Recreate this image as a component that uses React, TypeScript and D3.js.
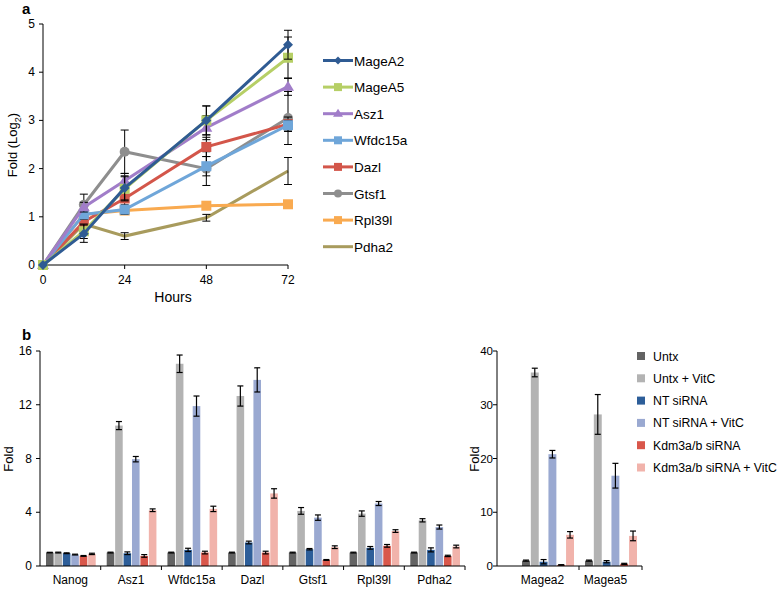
import * as d3 from "d3";
import React, { useEffect, useRef } from "react";

// panel a: time course (log2 fold)
const hours = [0, 12, 24, 48, 72];
const genesA = ["MageA2", "MageA5", "Asz1", "Wfdc15a", "Dazl", "Gtsf1", "Rpl39l", "Pdha2"];
const valuesA = [
  [0, 0.65, 1.6, 3.0, 4.57],
  [0, 0.7, 1.58, 3.0, 4.3],
  [0, 1.2, 1.75, 2.85, 3.7],
  [0, 1.05, 1.15, 2.05, 2.9],
  [0, 0.9, 1.38, 2.45, 2.92],
  [0, 1.25, 2.35, 2.0, 3.05],
  [0, 1.05, 1.13, 1.23, 1.26],
  [0, 0.85, 0.6, 0.98, 1.95],
];
const errorsA = [
  [0, 0.18, 0.25, 0.3, 0.3],
  [0, 0.15, 0.25, 0.3, 0.43],
  [0, 0.1, 0.15, 0.25, 0.18],
  [0, 0.1, 0.1, 0.2, 0.1],
  [0, 0.15, 0.15, 0.2, 0.15],
  [0, 0.22, 0.45, 0.35, 0.55],
  [0, 0.1, 0.05, 0.05, 0.05],
  [0, 0.1, 0.07, 0.07, 0.28],
];
const colorsA = ["#2f5b93", "#b6cf66", "#a17dc9", "#6fa6d9", "#d3564a", "#8e8e8e", "#f9aa50", "#a89b5d"];
const markersA = ["diamond", "square", "triangle", "square", "square", "circle", "square", "none"];
const hourTicks = [0, 24, 48, 72];

// panel b: bar charts
const treatments = ["Untx", "Untx + VitC", "NT siRNA", "NT siRNA + VitC", "Kdm3a/b siRNA", "Kdm3a/b siRNA + VitC"];
const barColors = ["#636363", "#b3b3b3", "#2d5e99", "#9aa9d1", "#d9574b", "#f1b3ab"];
const genesB = ["Nanog", "Asz1", "Wfdc15a", "Dazl", "Gtsf1", "Rpl39l", "Pdha2"];
const valuesB = [
  [1, 1, 1, 1, 1, 1, 1],
  [1, 10.45, 15.05, 12.65, 4.1, 3.9, 3.4],
  [0.95, 0.95, 1.2, 1.75, 1.25, 1.35, 1.2],
  [0.85, 7.95, 11.9, 13.85, 3.6, 4.65, 2.9],
  [0.75, 0.75, 1.0, 1.0, 0.45, 1.5, 0.75],
  [0.9, 4.15, 4.25, 5.4, 1.4, 2.6, 1.45],
];
const errorsB = [
  [0.02, 0.03, 0.03, 0.03, 0.03, 0.03, 0.03],
  [0.03, 0.3, 0.65, 0.75, 0.25, 0.2, 0.12],
  [0.03, 0.1, 0.12, 0.1, 0.05, 0.1, 0.15],
  [0.03, 0.2, 0.75, 0.9, 0.2, 0.15, 0.15],
  [0.03, 0.1, 0.1, 0.1, 0.03, 0.1, 0.05],
  [0.05, 0.1, 0.2, 0.35, 0.1, 0.1, 0.1],
];
const genesC = ["Magea2", "Magea5"];
const valuesC = [
  [1, 1],
  [36, 28.2],
  [0.8, 0.8],
  [20.8, 16.8],
  [0.2, 0.4],
  [5.8, 5.6],
];
const errorsC = [
  [0.1, 0.1],
  [0.8, 3.7],
  [0.4, 0.2],
  [0.7, 2.3],
  [0.05, 0.1],
  [0.6, 0.9],
];

const FONT = "'Liberation Sans', Arial, sans-serif";

export default function App() {
  const ref = useRef<SVGSVGElement>(null);

  useEffect(() => {
    const svg = d3.select(ref.current);
    svg.selectAll("*").remove();
    svg.style("font-family", FONT);

    // ---------- panel a ----------
    const xA = d3.scaleLinear().domain([0, 72]).range([43, 288]);
    const yA = d3.scaleLinear().domain([0, 5]).range([265, 24]);

    const gA = svg.append("g");
    gA.append("line").attr("x1", 43).attr("x2", 43).attr("y1", yA(5)).attr("y2", yA(0)).attr("stroke", "#000");
    gA.append("line").attr("x1", 43).attr("x2", 288).attr("y1", yA(0)).attr("y2", yA(0)).attr("stroke", "#000");
    d3.range(0, 6).forEach((t) => {
      gA.append("line").attr("x1", 39).attr("x2", 43).attr("y1", yA(t)).attr("y2", yA(t)).attr("stroke", "#000");
      gA.append("text").attr("x", 35).attr("y", yA(t) + 4).attr("text-anchor", "end").style("font-size", "12px").text(t);
    });
    hourTicks.forEach((t) => {
      gA.append("line").attr("x1", xA(t)).attr("x2", xA(t)).attr("y1", yA(0)).attr("y2", yA(0) + 4).attr("stroke", "#000");
      gA.append("text").attr("x", xA(t)).attr("y", yA(0) + 19).attr("text-anchor", "middle").style("font-size", "12px").text(t);
    });
    gA.append("text").attr("x", 173).attr("y", 302).attr("text-anchor", "middle").style("font-size", "14px").text("Hours");
    const yt = gA.append("text").attr("transform", "translate(17,145) rotate(-90)").attr("text-anchor", "middle").style("font-size", "13px");
    yt.append("tspan").text("Fold (Log");
    yt.append("tspan").attr("dy", 4).style("font-size", "9px").text("2");
    yt.append("tspan").attr("dy", -4).text(")");
    svg.append("text").attr("x", 22).attr("y", 14).style("font-size", "15px").style("font-weight", "bold").text("a");

    const line = d3.line<number>().x((d, i) => xA(hours[i])).y((d) => yA(d));

    const drawMarker = (g, kind, x, y, color, r = 5) => {
      if (kind === "square") {
        g.append("rect").attr("x", x - r).attr("y", y - r).attr("width", 2 * r).attr("height", 2 * r).attr("fill", color);
      } else if (kind === "diamond") {
        g.append("path").attr("d", `M${x},${y - r}L${x + r},${y}L${x},${y + r}L${x - r},${y}Z`).attr("fill", color);
      } else if (kind === "triangle") {
        g.append("path").attr("d", `M${x},${y - r - 1}L${x + r + 1},${y + r - 1}L${x - r - 1},${y + r - 1}Z`).attr("fill", color);
      } else if (kind === "circle") {
        g.append("circle").attr("cx", x).attr("cy", y).attr("r", r).attr("fill", color);
      }
    };

    // draw in reverse so MageA2 lies on top
    for (let s = genesA.length - 1; s >= 0; s--) {
      const g = gA.append("g");
      g.append("path").datum(valuesA[s]).attr("d", line).attr("fill", "none").attr("stroke", colorsA[s]).attr("stroke-width", 3);
      valuesA[s].forEach((v, i) => {
        const e = errorsA[s][i];
        if (e > 0) {
          const x = xA(hours[i]);
          g.append("line").attr("x1", x).attr("x2", x).attr("y1", yA(v - e)).attr("y2", yA(v + e)).attr("stroke", "#000");
          [v - e, v + e].forEach((w) =>
            g.append("line").attr("x1", x - 4).attr("x2", x + 4).attr("y1", yA(w)).attr("y2", yA(w)).attr("stroke", "#000")
          );
        }
      });
      valuesA[s].forEach((v, i) => drawMarker(g, markersA[s], xA(hours[i]), yA(v), colorsA[s]));
    }

    // legend a
    genesA.forEach((name, s) => {
      const y = 60.5 + s * 26.6;
      const g = svg.append("g");
      g.append("line").attr("x1", 323).attr("x2", 353).attr("y1", y).attr("y2", y).attr("stroke", colorsA[s]).attr("stroke-width", 3);
      drawMarker(g, markersA[s], 338, y, colorsA[s], 4);
      g.append("text").attr("x", 354).attr("y", y + 5).style("font-size", "13.5px").text(name);
    });

    // ---------- panel b ----------
    const drawBars = (cats, values, errors, x0, x1, yMax, yTicks, axisStart, axisEnd, titleX, labelShift, tickGap, tickFont) => {
      const g = svg.append("g");
      const y = d3.scaleLinear().domain([0, yMax]).range([566, 351]);
      const x = d3.scaleBand().domain(cats).range([x0, x1]);
      const xi = d3.scaleBand().domain(d3.range(treatments.length).map(String)).range([6, x.bandwidth() - 5]).paddingInner(0.1);

      cats.forEach((c, ci) => {
        treatments.forEach((t, ti) => {
          const v = values[ti][ci];
          const e = errors[ti][ci];
          const bx = x(c) + xi(String(ti));
          const w = xi.bandwidth();
          g.append("rect").attr("x", bx).attr("y", y(v)).attr("width", w).attr("height", y(0) - y(v)).attr("fill", barColors[ti]);
          const cx = bx + w / 2;
          g.append("line").attr("x1", cx).attr("x2", cx).attr("y1", y(v - e)).attr("y2", y(v + e)).attr("stroke", "#000").attr("stroke-width", 1.2);
          [v - e, v + e].forEach((vv) =>
            g.append("line").attr("x1", cx - 3).attr("x2", cx + 3).attr("y1", y(vv)).attr("y2", y(vv)).attr("stroke", "#000").attr("stroke-width", 1.2)
          );
        });
        g.append("text").attr("x", x(c) + x.bandwidth() / 2 + labelShift).attr("y", 584).attr("text-anchor", "middle").style("font-size", "12px").text(c);
        g.append("line").attr("x1", x(c) + x.bandwidth()).attr("x2", x(c) + x.bandwidth()).attr("y1", 566).attr("y2", 570).attr("stroke", "#000");
      });

      g.append("line").attr("x1", axisStart).attr("x2", axisStart).attr("y1", 351).attr("y2", 566).attr("stroke", "#000");
      g.append("line").attr("x1", axisStart).attr("x2", axisEnd).attr("y1", 566).attr("y2", 566).attr("stroke", "#000");
      yTicks.forEach((t) => {
        g.append("line").attr("x1", axisStart - 4).attr("x2", axisStart).attr("y1", y(t)).attr("y2", y(t)).attr("stroke", "#000");
        g.append("text").attr("x", axisStart - tickGap).attr("y", y(t) + 4).attr("text-anchor", "end").style("font-size", tickFont).text(t);
      });
      g.append("text").attr("transform", `translate(${titleX},459) rotate(-90)`).attr("text-anchor", "middle").style("font-size", "13px").text("Fold");
    };

    drawBars(genesB, valuesB, errorsB, 40, 465, 16, [0, 4, 8, 12, 16], 40, 465, 13, 0, 8, "12px");
    drawBars(genesC, valuesC, errorsC, 516, 642, 40, [0, 10, 20, 30, 40], 497, 642, 479, -5, 4, "11.5px");

    svg.append("text").attr("x", 22).attr("y", 340).style("font-size", "15px").style("font-weight", "bold").text("b");

    // legend b
    treatments.forEach((t, i) => {
      const y = 356 + i * 22.3;
      svg.append("rect").attr("x", 637).attr("y", y - 4).attr("width", 8).attr("height", 8).attr("fill", barColors[i]);
      svg.append("text").attr("x", 653).attr("y", y + 4.5).style("font-size", "12.3px").text(t);
    });
  }, []);

  return (
    <svg
      ref={ref}
      width={784}
      height={589}
      style={{ position: "absolute", left: 0, top: 0, display: "block", background: "#fff" }}
    />
  );
}
